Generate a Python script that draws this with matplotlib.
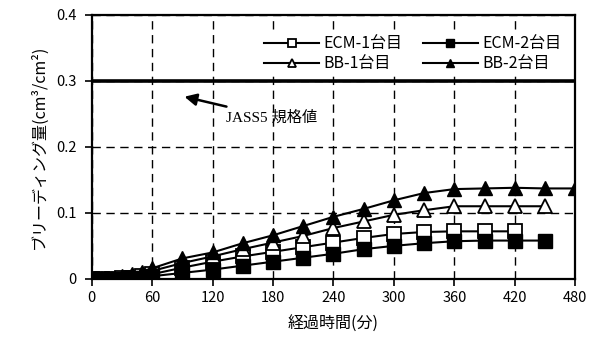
import matplotlib
matplotlib.use("Agg")
import matplotlib.pyplot as plt

plt.rcParams['font.family'] = ['Noto Sans CJK JP', 'DejaVu Sans']

# elapsed time (min) and bleeding amount (cm3/cm2)
time_ecm1 = [0, 10, 20, 30, 40, 50, 60, 90, 120, 150, 180, 210, 240, 270, 300, 330, 360, 390, 420]
ecm1 = [0, 0, 0, 0.001, 0.002, 0.004, 0.007, 0.017, 0.026, 0.034, 0.041, 0.048, 0.055, 0.062, 0.068, 0.071, 0.072, 0.072, 0.072]

time_ecm2 = [0, 10, 20, 30, 40, 50, 60, 90, 120, 150, 180, 210, 240, 270, 300, 330, 360, 390, 420, 450]
ecm2 = [0, 0, 0, 0, 0.001, 0.002, 0.004, 0.009, 0.014, 0.020, 0.026, 0.032, 0.038, 0.045, 0.050, 0.054, 0.057, 0.058, 0.058, 0.058]

time_bb1 = [0, 10, 20, 30, 40, 50, 60, 90, 120, 150, 180, 210, 240, 270, 300, 330, 360, 390, 420, 450]
bb1 = [0, 0, 0, 0.002, 0.004, 0.007, 0.012, 0.024, 0.034, 0.045, 0.055, 0.065, 0.077, 0.087, 0.097, 0.104, 0.110, 0.110, 0.110, 0.110]

time_bb2 = [0, 10, 20, 30, 40, 50, 60, 90, 120, 150, 180, 210, 240, 270, 300, 330, 360, 390, 420, 450, 480]
bb2 = [0, 0, 0, 0.004, 0.007, 0.011, 0.016, 0.031, 0.040, 0.054, 0.066, 0.080, 0.094, 0.106, 0.119, 0.130, 0.136, 0.137, 0.138, 0.137, 0.137]

jass5_limit = 0.3

x_ticks = [0, 60, 120, 180, 240, 300, 360, 420, 480]
y_ticks = [0, 0.1, 0.2, 0.3, 0.4]
y_ticklabels = ['0', '0.1', '0.2', '0.3', '0.4']

fig = plt.figure(figsize=(5.96, 3.38), dpi=100)
ax = fig.add_axes([0.154, 0.175, 0.811, 0.781])

ms = 9.5
ax.plot(time_ecm1, ecm1, color='black', lw=1.5, marker='s', ms=ms,
        mfc='white', mec='black', mew=1.3, label='ECM-1台目', zorder=3)
ax.plot(time_bb1, bb1, color='black', lw=1.5, marker='^', ms=ms + 1,
        mfc='white', mec='black', mew=1.3, label='BB-1台目', zorder=3)
ax.plot(time_ecm2, ecm2, color='black', lw=1.5, marker='s', ms=ms,
        mfc='black', mec='black', label='ECM-2台目', zorder=4)
ax.plot(time_bb2, bb2, color='black', lw=1.5, marker='^', ms=ms + 1,
        mfc='black', mec='black', label='BB-2台目', zorder=4)

ax.axhline(jass5_limit, color='black', lw=2.6, zorder=5)

ax.annotate('JASS5 規格値', xy=(92, 0.276), xytext=(133, 0.245),
            fontsize=11, family=['Liberation Serif', 'Noto Sans CJK JP'],
            va='center', ha='left',
            arrowprops=dict(arrowstyle='-|>', color='black', lw=1.8,
                            mutation_scale=18, shrinkA=2, shrinkB=0))

ax.set_xlim(0, 480)
ax.set_ylim(0, 0.4)
ax.set_xticks(x_ticks)
ax.set_yticks(y_ticks)
ax.set_yticklabels(y_ticklabels)
ax.tick_params(direction='out', length=5, width=1.2, labelsize=10.5, colors='black')
ax.tick_params(axis='y', pad=6)
ax.grid(True, color='black', linestyle=(0, (6, 4)), lw=1.0)
ax.set_axisbelow(True)
for s in ax.spines.values():
    s.set_linewidth(1.6)

ax.set_xlabel('経過時間(分)', fontsize=11.5, labelpad=8)
ax.set_ylabel('ブリーディング量(cm³/cm²)', fontsize=11.5, labelpad=6)

leg = ax.legend(ncol=2, loc='upper right', bbox_to_anchor=(0.995, 0.965),
                frameon=True, fancybox=False, edgecolor='none', framealpha=1,
                fontsize=11.5, markerscale=0.6, handlelength=3.4,
                handletextpad=0.3, columnspacing=1.3, labelspacing=0.2,
                borderpad=0.2)
leg.set_zorder(6)

fig.savefig('out.png', dpi=100)
